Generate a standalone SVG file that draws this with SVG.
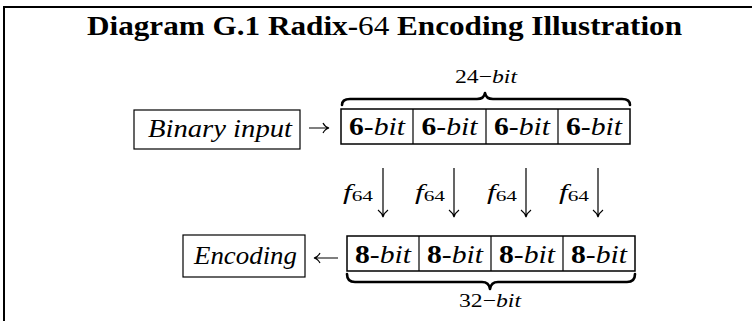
<svg xmlns="http://www.w3.org/2000/svg" width="752" height="321" viewBox="0 0 752 321">
<defs>
<style>
.frame{stroke:#000;stroke-width:2;fill:none}
.box{fill:#fff;stroke:#000;stroke-width:1.2}
.cell{fill:#fff;stroke:#000;stroke-width:1.5}
.ln{stroke:#000;stroke-width:1.2;fill:none}
.brace{stroke:#000;stroke-width:2.6;fill:none;stroke-linecap:round;stroke-linejoin:round}
.t{font-family:"Liberation Serif","DejaVu Serif",serif;fill:#000}
.title{font-size:28px;font-weight:bold}
.big{font-size:26px;font-style:italic}
.cl{font-size:26px}
.sm{font-size:19px}
.b{font-weight:bold;font-style:normal}
.i{font-style:italic}
.n{font-style:normal}
.f{font-size:22px;font-style:italic}
.sub{font-size:15px;font-style:normal}
</style>
</defs>
<path class="frame" d="M4,321 L4,7 L752,7"/>
<text class="t title" x="87" y="35" textLength="595" lengthAdjust="spacingAndGlyphs">Diagram G.1  Radix-<tspan font-weight="normal">64</tspan> Encoding Illustration</text>

<g id="binary-input">
<rect class="box" x="134" y="110" width="166" height="39"/>
<text class="t big" x="220" y="137" text-anchor="middle" textLength="144" lengthAdjust="spacingAndGlyphs">Binary input</text>
</g>

<g id="six-bit-group">
<rect class="cell" x="341" y="109" width="289" height="35"/>
<line class="ln" x1="413" y1="109" x2="413" y2="144" stroke-width="1.5"/>
<line class="ln" x1="486" y1="109" x2="486" y2="144" stroke-width="1.5"/>
<line class="ln" x1="558" y1="109" x2="558" y2="144" stroke-width="1.5"/>
<text class="t cl" x="377" y="135" text-anchor="middle" textLength="56" lengthAdjust="spacingAndGlyphs"><tspan class="b">6</tspan><tspan class="n">-</tspan><tspan class="i">bit</tspan></text>
<text class="t cl" x="449.5" y="135" text-anchor="middle" textLength="56" lengthAdjust="spacingAndGlyphs"><tspan class="b">6</tspan><tspan class="n">-</tspan><tspan class="i">bit</tspan></text>
<text class="t cl" x="522" y="135" text-anchor="middle" textLength="56" lengthAdjust="spacingAndGlyphs"><tspan class="b">6</tspan><tspan class="n">-</tspan><tspan class="i">bit</tspan></text>
<text class="t cl" x="594" y="135" text-anchor="middle" textLength="56" lengthAdjust="spacingAndGlyphs"><tspan class="b">6</tspan><tspan class="n">-</tspan><tspan class="i">bit</tspan></text>
<path class="brace" d="M342,105 Q342,99 350,99 L477,99 Q484,99 485,93 Q486,99 493,99 L622,99 Q630,99 630,105"/>
<text class="t sm" x="486" y="83" text-anchor="middle" textLength="62" lengthAdjust="spacingAndGlyphs">24−<tspan class="i">bit</tspan></text>
</g>

<g id="encoding">
<rect class="box" x="183" y="235" width="122" height="42"/>
<text class="t big" x="245.5" y="264" text-anchor="middle" textLength="103" lengthAdjust="spacingAndGlyphs">Encoding</text>
</g>

<g id="eight-bit-group">
<rect class="cell" x="347" y="236" width="288" height="35"/>
<line class="ln" x1="419" y1="236" x2="419" y2="271" stroke-width="1.5"/>
<line class="ln" x1="491" y1="236" x2="491" y2="271" stroke-width="1.5"/>
<line class="ln" x1="563" y1="236" x2="563" y2="271" stroke-width="1.5"/>
<text class="t cl" x="383" y="263" text-anchor="middle" textLength="56" lengthAdjust="spacingAndGlyphs"><tspan class="b">8</tspan><tspan class="n">-</tspan><tspan class="i">bit</tspan></text>
<text class="t cl" x="455" y="263" text-anchor="middle" textLength="56" lengthAdjust="spacingAndGlyphs"><tspan class="b">8</tspan><tspan class="n">-</tspan><tspan class="i">bit</tspan></text>
<text class="t cl" x="527" y="263" text-anchor="middle" textLength="56" lengthAdjust="spacingAndGlyphs"><tspan class="b">8</tspan><tspan class="n">-</tspan><tspan class="i">bit</tspan></text>
<text class="t cl" x="599" y="263" text-anchor="middle" textLength="56" lengthAdjust="spacingAndGlyphs"><tspan class="b">8</tspan><tspan class="n">-</tspan><tspan class="i">bit</tspan></text>
<path class="brace" d="M347,274 Q347,282 355,282 L482,282 Q489,282 490,289 Q491,282 498,282 L627,282 Q635,282 635,274"/>
<text class="t sm" x="490" y="307" text-anchor="middle" textLength="62" lengthAdjust="spacingAndGlyphs">32−<tspan class="i">bit</tspan></text>
</g>

<g id="connectors">
<path class="ln" d="M309,128 L329,128 M323,123 Q325,127 329,128 Q325,129 323,133"/>
<path class="ln" d="M338,258 L314,258 M320,253 Q318,257 314,258 Q318,259 320,263"/>
<path class="ln" d="M383,168 L383,217 M378,210 Q382,213 383,217 Q384,213 388,210"/>
<path class="ln" d="M454,168 L454,217 M449,210 Q453,213 454,217 Q455,213 459,210"/>
<path class="ln" d="M526,168 L526,217 M521,210 Q525,213 526,217 Q527,213 531,210"/>
<path class="ln" d="M598,168 L598,217 M593,210 Q597,213 598,217 Q599,213 603,210"/>
<text class="t f" x="343" y="199" textLength="30" lengthAdjust="spacingAndGlyphs">f<tspan class="sub" dy="2">64</tspan></text>
<text class="t f" x="415" y="199" textLength="30" lengthAdjust="spacingAndGlyphs">f<tspan class="sub" dy="2">64</tspan></text>
<text class="t f" x="487" y="199" textLength="30" lengthAdjust="spacingAndGlyphs">f<tspan class="sub" dy="2">64</tspan></text>
<text class="t f" x="559" y="199" textLength="30" lengthAdjust="spacingAndGlyphs">f<tspan class="sub" dy="2">64</tspan></text>
</g>
</svg>
